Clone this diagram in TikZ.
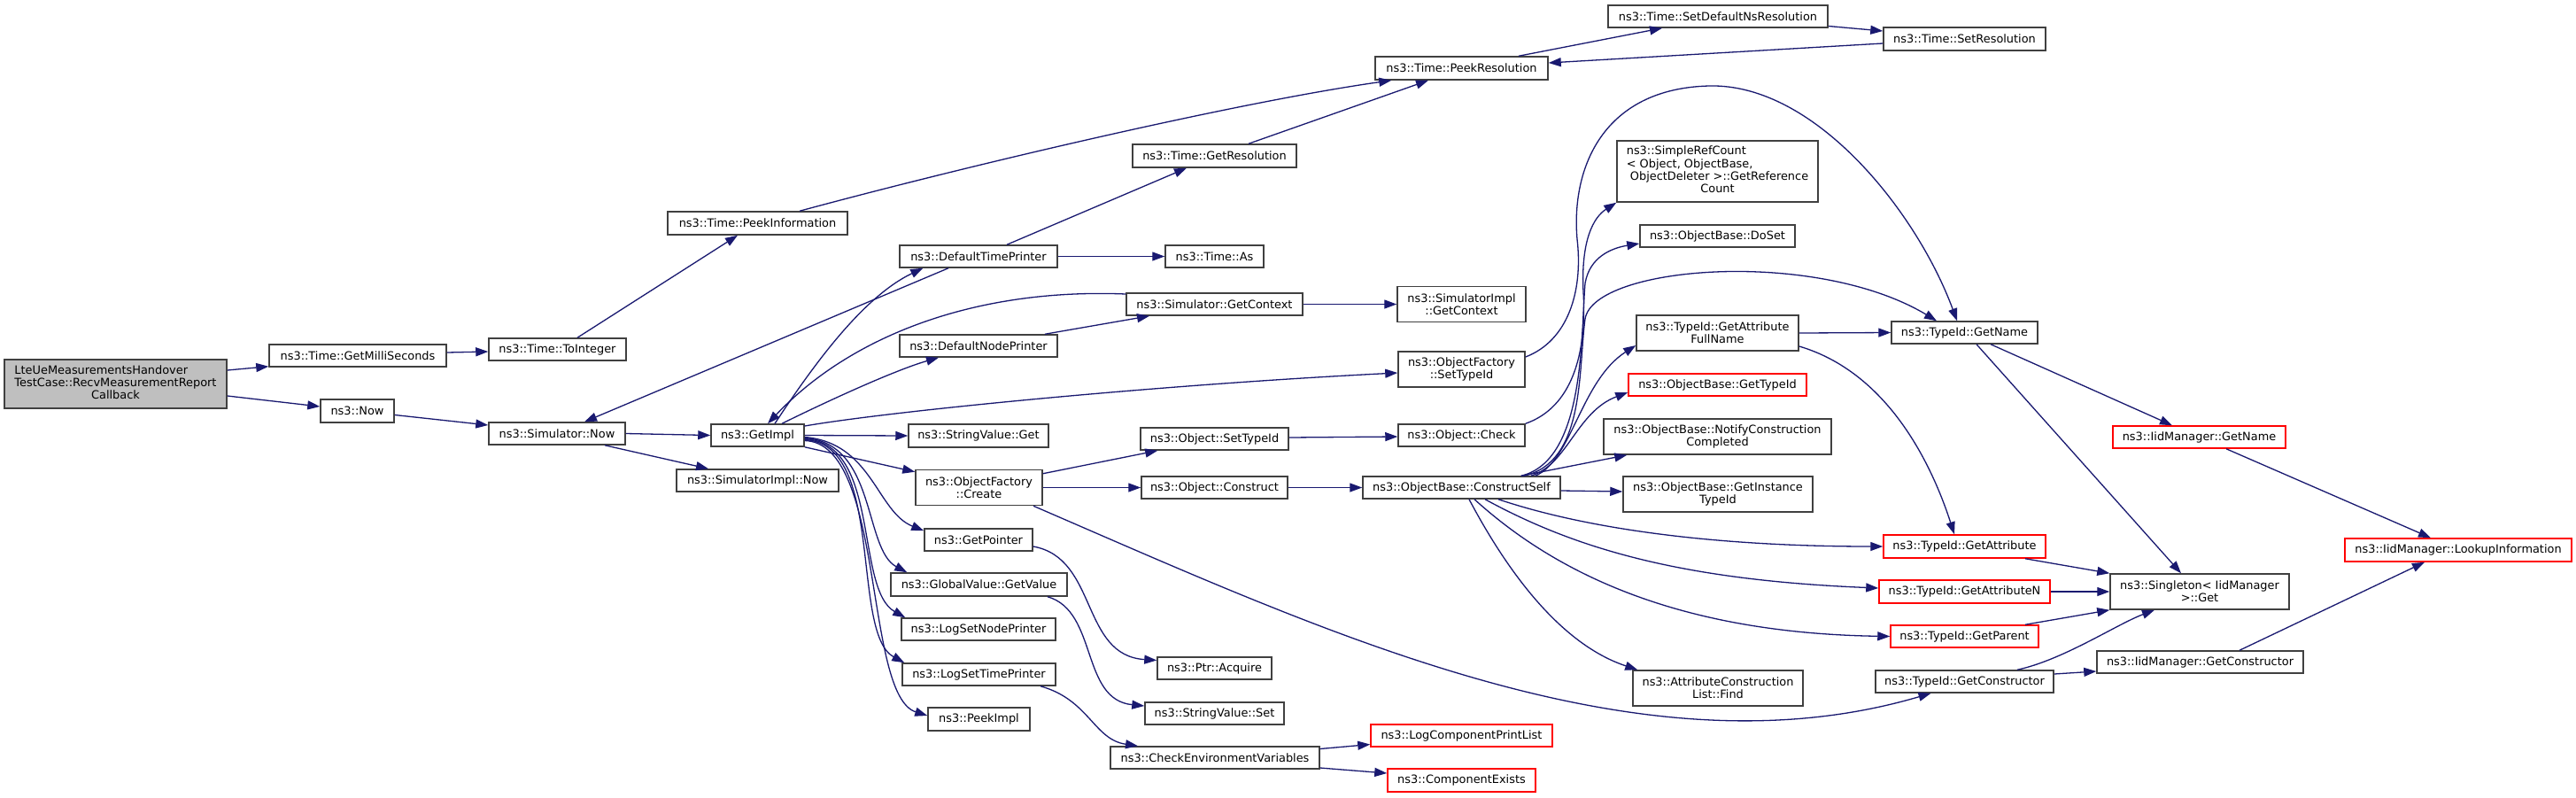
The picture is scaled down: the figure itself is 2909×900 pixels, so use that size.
\documentclass[tikz,border=0pt]{standalone}
\usepackage{fontspec}
\newfontfamily\dv{DejaVu Sans}
\usetikzlibrary{arrows.meta}
\definecolor{navy}{RGB}{25,25,112}
\definecolor{boxgray}{RGB}{64,64,64}
\definecolor{rootgray}{RGB}{191,191,191}
\definecolor{boxred}{RGB}{255,0,0}
\begin{document}
\begin{tikzpicture}[x=1pt,y=-1pt,
  box/.style={draw=boxgray, line width=1.5pt, fill=white, inner sep=0pt, align=center,
    font={\dv\fontsize{12.9}{14.3}\selectfont}},
  redbox/.style={box, draw=boxred},
  sz/.style 2 args={minimum width=#1pt, minimum height=#2pt},
  edge/.style={draw=navy, line width=1.3pt, -{Triangle[length=14pt,width=10pt]}}]
\path[use as bounding box, fill=white] (0,0) rectangle (2909,900);

% rank 0
\node[box, fill=rootgray, sz={251}{55}] (root) at (130.5,433.5)
  {\begin{tabular}{@{}l@{}}LteUeMeasurementsHandover\\TestCase::RecvMeasurementReport\\\multicolumn{1}{@{}c@{}}{Callback}\end{tabular}};
% rank 1
\node[box, sz={200}{25}] (gms) at (404,401.5) {ns3::Time::GetMilliSeconds};
\node[box, sz={83}{26}] (now) at (403.5,464) {ns3::Now};
% rank 2
\node[box, sz={155}{25}] (toint) at (629.5,394.5) {ns3::Time::ToInteger};
\node[box, sz={154}{25}] (simnow) at (629,489.5) {ns3::Simulator::Now};
% rank 3
\node[box, sz={203}{26}] (peekinfo) at (855.5,252) {ns3::Time::PeekInformation};
\node[box, sz={105}{25}] (getimpl) at (855.5,491.5) {ns3::GetImpl};
\node[box, sz={183}{25}] (simimplnow) at (855.5,542.5) {ns3::SimulatorImpl::Now};
% rank 4
\node[box, sz={178}{25}] (dtp) at (1105,289.5) {ns3::DefaultTimePrinter};
\node[box, sz={178}{25}] (dnp) at (1105,390.5) {ns3::DefaultNodePrinter};
\node[box, sz={158}{26}] (svget) at (1105,492) {ns3::StringValue::Get};
\node[box, sz={143}{40}] (ofcreate) at (1105.5,550.5) {ns3::ObjectFactory\\::Create};
\node[box, sz={122}{25}] (getptr) at (1105,609.5) {ns3::GetPointer};
\node[box, sz={199}{26}] (gvget) at (1105.5,660) {ns3::GlobalValue::GetValue};
\node[box, sz={174}{25}] (lsnp) at (1105,710.5) {ns3::LogSetNodePrinter};
\node[box, sz={173}{25}] (lstp) at (1105.5,761.5) {ns3::LogSetTimePrinter};
\node[box, sz={115}{26}] (peekimpl) at (1105.5,812) {ns3::PeekImpl};
% rank 5
\node[box, sz={185}{26}] (getres) at (1371.5,176) {ns3::Time::GetResolution};
\node[box, sz={111}{25}] (timeas) at (1371.5,289.5) {ns3::Time::As};
\node[box, sz={199}{25}] (simgetctx) at (1371.5,343.5) {ns3::Simulator::GetContext};
\node[box, sz={167}{25}] (objsettid) at (1371.5,495.5) {ns3::Object::SetTypeId};
\node[box, sz={165}{25}] (objconstruct) at (1371.5,550.5) {ns3::Object::Construct};
\node[box, sz={129}{25}] (ptracq) at (1371.5,754.5) {ns3::Ptr::Acquire};
\node[box, sz={157}{25}] (svset) at (1371.5,805.5) {ns3::StringValue::Set};
\node[box, sz={236}{25}] (checkenv) at (1372,855.5) {ns3::CheckEnvironmentVariables};
% rank 6
\node[box, sz={195}{26}] (peekres) at (1650.5,77) {ns3::Time::PeekResolution};
\node[box, sz={145}{40}] (simimplctx) at (1650.5,343.5) {ns3::SimulatorImpl\\::GetContext};
\node[box, sz={143}{40}] (ofsettid) at (1650.5,417) {ns3::ObjectFactory\\::SetTypeId};
\node[box, sz={143}{25}] (objcheck) at (1650.5,491.5) {ns3::Object::Check};
\node[box, sz={223}{25}] (constructself) at (1650.5,550.5) {ns3::ObjectBase::ConstructSelf};
\node[redbox, sz={205}{25}] (logcpl) at (1650.5,830.5) {ns3::LogComponentPrintList};
\node[redbox, sz={167}{26}] (compexists) at (1650.5,881) {ns3::ComponentExists};
% rank 7
\node[box, sz={248}{25}] (setdefns) at (1940,18.5) {ns3::Time::SetDefaultNsResolution};
\node[box, sz={227}{69}] (simpleref) at (1939.5,193.5)
  {\begin{tabular}{@{}l@{}}ns3::SimpleRefCount\\\textless{} Object, ObjectBase,\\\ ObjectDeleter \textgreater::GetReference\\\multicolumn{1}{@{}c@{}}{Count}\end{tabular}};
\node[box, sz={175}{25}] (doset) at (1939.5,266.5) {ns3::ObjectBase::DoSet};
\node[box, sz={183}{40}] (gafn) at (1939.5,376) {ns3::TypeId::GetAttribute\\FullName};
\node[redbox, sz={201}{25}] (obgettid) at (1939.5,434.5) {ns3::ObjectBase::GetTypeId};
\node[box, sz={257}{40}] (notifycc) at (1939.5,493) {ns3::ObjectBase::NotifyConstruction\\Completed};
\node[box, sz={214}{40}] (getinst) at (1940,558) {ns3::ObjectBase::GetInstance\\TypeId};
\node[box, sz={192}{40}] (acfind) at (1940,777) {ns3::AttributeConstruction\\List::Find};
% rank 8
\node[box, sz={183}{26}] (setres) at (2218.5,44) {ns3::Time::SetResolution};
\node[box, sz={165}{25}] (getname) at (2218.5,375.5) {ns3::TypeId::GetName};
\node[redbox, sz={183}{26}] (getattr) at (2218.5,617) {ns3::TypeId::GetAttribute};
\node[redbox, sz={193}{26}] (getattrn) at (2218.5,668) {ns3::TypeId::GetAttributeN};
\node[redbox, sz={167}{25}] (getparent) at (2218.5,718.5) {ns3::TypeId::GetParent};
\node[box, sz={201}{25}] (getctor) at (2218.5,769.5) {ns3::TypeId::GetConstructor};
% rank 9
\node[redbox, sz={195}{25}] (iidgetname) at (2483.5,493.5) {ns3::IidManager::GetName};
\node[box, sz={202}{40}] (singleton) at (2484,668) {ns3::Singleton\textless{} IidManager\\\textgreater::Get};
\node[box, sz={233}{25}] (iidgetctor) at (2484.5,747.5) {ns3::IidManager::GetConstructor};
% rank 10
\node[redbox, sz={256}{26}] (lookup) at (2776,621) {ns3::IidManager::LookupInformation};

% edges
\draw[edge] ([yshift=15.5pt]root.east) -- ([yshift=1pt]gms.south west);
\draw[edge] ([yshift=-13.5pt]root.east) -- ([yshift=5pt]now.west);
\draw[edge] ([yshift=3.5pt]gms.east) -- ([yshift=-2.5pt]toint.west);
\draw[edge] ([xshift=22.5pt]toint.north) -- ([xshift=-22.5pt]peekinfo.south);
\draw[edge] ([yshift=-4.5pt]now.east) -- ([yshift=9.5pt]simnow.west);
\draw[edge] ([xshift=47.5pt]peekinfo.north) .. controls (1100,185) and (1400,115) .. ([xshift=19pt]peekres.south west);
\draw[edge] (simnow.east) -- (getimpl.west);
\draw[edge] ([xshift=54pt]simnow.south) -- ([xshift=-55.5pt]simimplnow.north);
\draw[edge] ([xshift=-34pt]dtp.south) -- ([xshift=31pt]simnow.north);
\draw[edge] ([xshift=19.5pt]getimpl.north) .. controls (920,410) and (975,335) .. ([xshift=27pt]dtp.south west);
\draw[edge] ([yshift=11.5pt]simgetctx.west) .. controls (1100,325) and (960,380) .. ([xshift=11.5pt]getimpl.north);
\draw[edge] ([xshift=27.5pt]getimpl.north) .. controls (930,455) and (1010,418) .. ([xshift=-45pt]dnp.south);
\draw[edge] ([xshift=75pt]dnp.north) -- ([xshift=-73.5pt]simgetctx.south);
\draw[edge] ([xshift=32pt]dtp.north) -- ([xshift=-31.5pt]getres.south);
\draw[edge] (dtp.east) -- (timeas.west);
\draw[edge] ([xshift=38.5pt]getres.north) -- ([xshift=-37.5pt]peekres.south);
\draw[edge] ([xshift=64.5pt]peekres.north) -- ([xshift=-63pt]setdefns.south);
\draw[edge] ([yshift=-11pt]setdefns.east) -- ([yshift=9pt]setres.west);
\draw[edge] ([yshift=-5pt]setres.west) -- ([yshift=6pt]peekres.east);
\draw[edge] (simgetctx.east) -- (simimplctx.west);
\draw[edge] ([yshift=10.5pt]getimpl.east) .. controls (1000,465) and (1300,435) .. ([yshift=-4pt]ofsettid.west);
\draw[edge] (getimpl.east) -- (svget.west);
\draw[edge] (getimpl.south east) -- ([yshift=-3pt]ofcreate.north west);
\draw[edge] ([yshift=-2pt]getimpl.east) .. controls (985,500) and (990,578) .. ([yshift=-3pt]getptr.north west);
\draw[edge] ([yshift=-3pt]getimpl.east) .. controls (990,500) and (975,620) .. ([xshift=19pt]gvget.north west);
\draw[edge] ([yshift=-4pt]getimpl.east) .. controls (995,500) and (965,665) .. ([xshift=5pt]lsnp.north west);
\draw[edge] ([yshift=-5pt]getimpl.east) .. controls (1000,500) and (960,715) .. ([xshift=3pt]lstp.north west);
\draw[edge] ([yshift=-6pt]getimpl.east) .. controls (1000,500) and (975,785) .. ([yshift=4pt]peekimpl.west);
\draw[edge] ([yshift=-5pt]ofcreate.north east) -- ([xshift=20pt]objsettid.south west);
\draw[edge] (ofcreate.east) -- (objconstruct.west);
\draw[edge] ([xshift=61.5pt]ofcreate.south) .. controls (1500,715) and (1850,880) .. ([xshift=-38pt]getctor.south);
\draw[edge] ([yshift=-7.5pt]getptr.east) .. controls (1240,630) and (1220,740) .. ([yshift=9pt]ptracq.west);
\draw[edge] ([xshift=77.5pt]gvget.south) .. controls (1240,690) and (1220,790) .. ([yshift=8.5pt]svset.west);
\draw[edge] ([xshift=69.5pt]lstp.south) .. controls (1230,790) and (1235,835) .. ([xshift=-87pt]checkenv.north);
\draw[edge] ([yshift=10pt]checkenv.east) -- ([yshift=-10pt]logcpl.west);
\draw[edge] ([yshift=-11.5pt]checkenv.east) -- ([yshift=8pt]compexists.west);
\draw[edge] ([yshift=1.5pt]objsettid.east) -- ([yshift=-1.5pt]objcheck.west);
\draw[edge] (objconstruct.east) -- (constructself.west);
\draw[edge] ([yshift=14pt]ofsettid.east) .. controls (1770,385) and (1788,330) .. (1781,270)
   .. controls (1774,190) and (1810,100) .. (1930,97)
   .. controls (2050,94) and (2165,240) .. ([xshift=-8.5pt]getname.north);
\draw[edge] (objcheck.north east) .. controls (1775,460) and (1792,400) .. (1788,330)
   .. controls (1785,270) and (1800,245) .. (simpleref.south west);
\draw[edge] ([xshift=-45pt]constructself.north east) .. controls (1790,520) and (1785,380) .. (1790,320)
   .. controls (1795,290) and (1820,280) .. ([yshift=-8.5pt]doset.west);
\draw[edge] ([xshift=-42pt]constructself.north east) .. controls (1790,522) and (1782,420) .. (1790,360)
   .. controls (1800,300) and (2050,280) .. ([xshift=-31.5pt]getname.north);
\draw[edge] ([xshift=-29pt]constructself.north east) .. controls (1775,520) and (1785,430) .. ([yshift=-14pt]gafn.west);
\draw[edge] ([xshift=-34pt]constructself.north east) .. controls (1770,525) and (1780,465) .. ([yshift=-8.5pt]obgettid.west);
\draw[edge] ([xshift=-45pt]constructself.north east) -- ([xshift=27pt]notifycc.south west);
\draw[edge] ([yshift=-3.5pt]constructself.east) -- ([yshift=3pt]getinst.west);
\draw[edge] ([xshift=41.5pt]constructself.south) .. controls (1800,600) and (1950,617) .. (getattr.west);
\draw[edge] ([xshift=26.5pt]constructself.south) .. controls (1780,620) and (1900,655) .. ([yshift=4pt]getattrn.west);
\draw[edge] ([xshift=14.5pt]constructself.south) .. controls (1760,650) and (1900,715) .. (getparent.west);
\draw[edge] ([xshift=8.5pt]constructself.south) .. controls (1710,660) and (1770,730) .. ([xshift=6pt]acfind.north west);
\draw[edge] (gafn.east) -- (getname.west);
\draw[edge] ([yshift=-15pt]gafn.east) .. controls (2130,420) and (2180,520) .. ([xshift=-11.5pt]getattr.north);
\draw[edge] ([xshift=29.5pt]getname.south) -- ([xshift=-30.5pt]iidgetname.north);
\draw[edge] ([xshift=13.5pt]getname.south) -- ([xshift=-21pt]singleton.north);
\draw[edge] ([xshift=68.5pt]getattr.south) -- (singleton.north west);
\draw[edge] (getattrn.east) -- (singleton.west);
\draw[edge] ([xshift=68.5pt]getparent.north) -- (singleton.south west);
\draw[edge] ([xshift=59.5pt]getctor.north) .. controls (2330,745) and (2390,705) .. ([xshift=-51pt]singleton.south);
\draw[edge] ([yshift=8.5pt]getctor.east) -- ([yshift=-10.5pt]iidgetctor.west);
\draw[edge] ([xshift=30.5pt]iidgetname.south) -- ([xshift=-31pt]lookup.north);
\draw[edge] ([xshift=44.5pt]iidgetctor.north) -- ([xshift=-38pt]lookup.south);
\end{tikzpicture}
\end{document}
